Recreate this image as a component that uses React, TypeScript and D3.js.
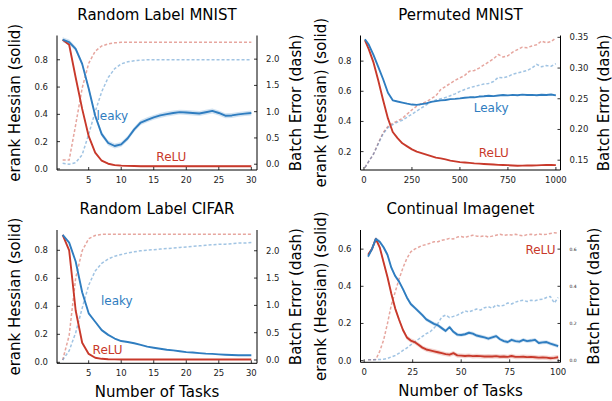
import React from 'react';
import * as d3 from 'd3';

// ---------- Data ----------
const rlTasks = [1,2,3,4,5,6,7,8,9,10,11,12,13,14,15,16,17,18,19,20,21,22,23,24,25,26,27,28,29,30];

// Random Label MNIST
const mnistLeakyErank = [0.947,0.93,0.88,0.77,0.59,0.39,0.255,0.19,0.168,0.18,0.225,0.29,0.34,0.36,0.378,0.392,0.402,0.41,0.416,0.414,0.41,0.406,0.415,0.425,0.41,0.39,0.392,0.40,0.405,0.41];
const mnistReluErank = [0.947,0.91,0.67,0.44,0.24,0.12,0.06,0.038,0.028,0.024,0.022,0.021,0.02,0.02,0.02,0.02,0.02,0.02,0.02,0.02,0.02,0.02,0.02,0.02,0.02,0.02,0.02,0.02,0.02,0.02];
const mnistLeakyError = [0.02,0.0,0.03,0.18,0.57,1.0,1.38,1.65,1.82,1.91,1.95,1.97,1.98,1.99,1.99,1.99,1.99,1.99,1.99,1.99,1.99,1.99,1.99,1.99,1.99,1.99,1.99,1.99,1.99,1.99];
const mnistReluError = [0.08,0.08,0.75,1.45,1.92,2.15,2.25,2.29,2.31,2.32,2.32,2.32,2.32,2.32,2.32,2.32,2.32,2.32,2.32,2.32,2.32,2.32,2.32,2.32,2.32,2.32,2.32,2.32,2.32,2.32];

// Random Label CIFAR
const cifarLeakyErank = [0.91,0.855,0.72,0.50,0.35,0.29,0.23,0.196,0.17,0.152,0.145,0.136,0.125,0.112,0.104,0.097,0.09,0.085,0.079,0.073,0.07,0.066,0.062,0.06,0.057,0.054,0.052,0.051,0.05,0.05];
const cifarReluErank = [0.91,0.80,0.37,0.14,0.06,0.033,0.025,0.022,0.021,0.02,0.02,0.02,0.02,0.02,0.02,0.02,0.02,0.02,0.02,0.02,0.02,0.02,0.02,0.02,0.02,0.02,0.02,0.02,0.02,0.02];
const cifarLeakyError = [0.0,0.17,0.5,0.95,1.37,1.63,1.77,1.85,1.9,1.93,1.96,1.98,2.0,2.01,2.02,2.03,2.04,2.05,2.06,2.07,2.08,2.09,2.1,2.11,2.12,2.12,2.13,2.14,2.14,2.15];
const cifarReluError = [0.0,0.45,1.5,2.0,2.22,2.28,2.3,2.3,2.3,2.3,2.3,2.3,2.3,2.3,2.3,2.3,2.3,2.3,2.3,2.3,2.3,2.3,2.3,2.3,2.3,2.3,2.3,2.3,2.3,2.3];

// Permuted MNIST
const permTasks = [5,25,50,75,100,125,150,175,200,225,250,275,300,325,350,375,400,425,450,475,500,525,550,575,600,625,650,675,700,725,750,775,800,825,850,875,900,925,950,975,1000];
const permLeakyErank = [0.945,0.91,0.84,0.76,0.68,0.59,0.54,0.532,0.525,0.518,0.512,0.51,0.515,0.52,0.53,0.535,0.54,0.542,0.548,0.55,0.553,0.557,0.56,0.56,0.565,0.567,0.57,0.568,0.572,0.575,0.573,0.576,0.574,0.578,0.575,0.576,0.574,0.577,0.575,0.579,0.573];
const permReluErank = [0.94,0.88,0.79,0.67,0.54,0.42,0.33,0.29,0.255,0.235,0.215,0.2,0.19,0.18,0.17,0.16,0.155,0.148,0.14,0.135,0.13,0.128,0.125,0.122,0.12,0.118,0.116,0.114,0.112,0.111,0.11,0.108,0.106,0.107,0.108,0.108,0.109,0.11,0.111,0.112,0.11];
const permLeakyError = [0.138,0.148,0.16,0.177,0.193,0.203,0.208,0.212,0.215,0.22,0.225,0.23,0.235,0.24,0.245,0.248,0.25,0.252,0.255,0.258,0.262,0.265,0.268,0.27,0.272,0.274,0.275,0.278,0.285,0.284,0.286,0.29,0.292,0.294,0.296,0.3,0.306,0.302,0.304,0.303,0.307];
const permReluError = [0.138,0.148,0.16,0.178,0.195,0.205,0.21,0.214,0.218,0.225,0.232,0.238,0.242,0.245,0.25,0.255,0.265,0.27,0.275,0.28,0.284,0.288,0.295,0.296,0.3,0.305,0.31,0.315,0.322,0.318,0.32,0.326,0.33,0.334,0.333,0.336,0.338,0.344,0.341,0.343,0.349];

// Continual Imagenet
const imgTasks = [2,4,6,8,10,12,14,16,18,20,22,24,26,28,30,32,34,36,38,40,42,44,46,48,50,52,54,56,58,60,62,64,66,68,70,72,74,76,78,80,82,84,86,88,90,92,94,96,98,100];
const imgLeakyErank = [0.56,0.60,0.655,0.64,0.61,0.57,0.50,0.455,0.425,0.385,0.34,0.305,0.285,0.265,0.245,0.222,0.21,0.198,0.19,0.175,0.16,0.18,0.155,0.14,0.138,0.142,0.15,0.145,0.135,0.13,0.125,0.118,0.125,0.132,0.115,0.105,0.1,0.112,0.105,0.102,0.112,0.105,0.108,0.112,0.095,0.098,0.1,0.092,0.085,0.078];
const imgReluErank = [0.57,0.60,0.655,0.61,0.53,0.45,0.36,0.28,0.22,0.165,0.125,0.108,0.1,0.085,0.07,0.06,0.055,0.05,0.045,0.04,0.035,0.032,0.04,0.028,0.027,0.025,0.027,0.024,0.025,0.024,0.022,0.023,0.022,0.024,0.021,0.022,0.02,0.025,0.02,0.02,0.021,0.019,0.02,0.018,0.016,0.017,0.016,0.013,0.015,0.018];
const imgLeakyError = [0.005,0.005,0.005,0.006,0.008,0.012,0.02,0.028,0.04,0.055,0.068,0.085,0.1,0.115,0.13,0.145,0.155,0.175,0.2,0.235,0.245,0.232,0.238,0.245,0.255,0.268,0.262,0.27,0.278,0.272,0.285,0.29,0.282,0.3,0.292,0.298,0.31,0.305,0.315,0.322,0.325,0.318,0.325,0.322,0.328,0.33,0.34,0.345,0.31,0.34];
const imgReluError = [0.005,0.005,0.006,0.05,0.11,0.2,0.3,0.37,0.44,0.5,0.55,0.585,0.6,0.61,0.62,0.625,0.632,0.64,0.64,0.648,0.652,0.658,0.655,0.665,0.668,0.663,0.67,0.675,0.67,0.668,0.672,0.665,0.67,0.675,0.68,0.674,0.678,0.676,0.68,0.675,0.672,0.678,0.68,0.676,0.682,0.678,0.68,0.684,0.688,0.686];

const rlXTicks = [5, 10, 15, 20, 25, 30];
const rlLeftTicks = [0, 0.2, 0.4, 0.6, 0.8];
const rlRightTicks = [0, 0.5, 1.0, 1.5, 2.0];
const permXTicks = [0, 250, 500, 750, 1000];
const permLeftTicks = [0.2, 0.4, 0.6, 0.8];
const permRightTicks = [0.15, 0.2, 0.25, 0.3, 0.35];
const imgXTicks = [0, 25, 50, 75, 100];
const imgLeftTicks = [0, 0.2, 0.4, 0.6];
const imgRightTicks = [0, 0.2, 0.4, 0.6];

// ---------- Styles ----------
const BLUE = '#2f7dc0';
const RED = '#c8392b';
const FONT = 'DejaVu Sans, Liberation Sans, sans-serif';

type Series = { x: number[]; y: number[]; axis: 'L' | 'R'; color: string; dashed?: boolean; band?: number };
type Label = { x: number; y: number; text: string; color: string };

type PanelProps = {
  box: { l: number; r: number; t: number; b: number };
  xDomain: [number, number];
  yLDomain: [number, number];
  yRDomain: [number, number];
  xTicks: number[];
  yLTicks: number[];
  yRTicks: number[];
  xFmt: (v: number) => string;
  yLFmt: (v: number) => string;
  yRFmt: (v: number) => string;
  rightTickSize?: number;
  series: Series[];
  labels: Label[];
  title: string;
  yLabel: string;
  yLabelX: number;
  yRLabel: string;
  yRLabelX: number;
  xLabel?: string;
};

function Panel(p: PanelProps) {
  const { box } = p;
  const x = d3.scaleLinear().domain(p.xDomain).range([box.l, box.r]);
  const yL = d3.scaleLinear().domain(p.yLDomain).range([box.b, box.t]);
  const yR = d3.scaleLinear().domain(p.yRDomain).range([box.b, box.t]);
  const cx = (box.l + box.r) / 2;
  const cy = (box.t + box.b) / 2;
  const tickLen = 3;
  const clipId = `clip-${Math.round(box.l)}-${Math.round(box.t)}`;
  return (
    <g>
      <defs>
        <clipPath id={clipId}>
          <rect x={box.l} y={box.t - 4} width={box.r - box.l} height={box.b - box.t + 4} />
        </clipPath>
      </defs>
      <g clipPath={`url(#${clipId})`}>
        {p.series.filter(s => s.band).map((s, i) => {
          const ys = s.axis === 'L' ? yL : yR;
          const area = d3.area<number>()
            .x((_, j) => x(s.x[j]))
            .y0((v) => ys(v - (s.band as number)))
            .y1((v) => ys(v + (s.band as number)));
          return <path key={'b' + i} d={area(s.y) || ''} fill={s.color} fillOpacity={0.22} stroke="none" />;
        })}
        {p.series.map((s, i) => {
          const ys = s.axis === 'L' ? yL : yR;
          const line = d3.line<number>().x((_, j) => x(s.x[j])).y((v) => ys(v));
          return (
            <path
              key={'s' + i}
              d={line(s.y) || ''}
              fill="none"
              stroke={s.color}
              strokeWidth={s.dashed ? 1.5 : 1.9}
              strokeOpacity={s.dashed ? 0.45 : 1}
              strokeDasharray={s.dashed ? '3,2' : undefined}
              strokeLinejoin="round"
            />
          );
        })}
      </g>
      {/* axes */}
      <line x1={box.l} x2={box.l} y1={box.t} y2={box.b} stroke="#000" strokeWidth={1} />
      <line x1={box.r} x2={box.r} y1={box.t} y2={box.b} stroke="#000" strokeWidth={1} />
      <line x1={box.l} x2={box.r} y1={box.b} y2={box.b} stroke="#000" strokeWidth={1} />
      {p.xTicks.map((t) => (
        <g key={'xt' + t}>
          <line x1={x(t)} x2={x(t)} y1={box.b} y2={box.b - tickLen} stroke="#000" strokeWidth={0.8} />
          <text x={x(t)} y={box.b + 13} fontSize={8.5} textAnchor="middle" fill="#222" fontFamily={FONT}>{p.xFmt(t)}</text>
        </g>
      ))}
      {p.yLTicks.map((t) => (
        <g key={'yl' + t}>
          <line x1={box.l} x2={box.l + tickLen} y1={yL(t)} y2={yL(t)} stroke="#000" strokeWidth={0.8} />
          <text x={box.l - 9} y={yL(t)} dy="0.35em" fontSize={8.5} textAnchor="end" fill="#222" fontFamily={FONT}>{p.yLFmt(t)}</text>
        </g>
      ))}
      {p.yRTicks.map((t) => (
        <g key={'yr' + t}>
          <line x1={box.r} x2={box.r - tickLen} y1={yR(t)} y2={yR(t)} stroke="#000" strokeWidth={0.8} />
          <text x={box.r + 9} y={yR(t)} dy="0.35em" fontSize={p.rightTickSize ?? 8.5} textAnchor="start" fill="#222" fontFamily={FONT}>{p.yRFmt(t)}</text>
        </g>
      ))}
      {p.labels.map((lb, i) => (
        <text key={'lb' + i} x={x(lb.x)} y={yL(lb.y)} fontSize={12} fill={lb.color} fontFamily={FONT}>{lb.text}</text>
      ))}
      <text x={cx} y={box.t - 16} fontSize={15} textAnchor="middle" fill="#000" fontFamily={FONT}>{p.title}</text>
      <text transform={`translate(${p.yLabelX},${cy}) rotate(-90)`} fontSize={15} textAnchor="middle" fill="#000" fontFamily={FONT}>{p.yLabel}</text>
      <text transform={`translate(${p.yRLabelX},${cy}) rotate(-90)`} fontSize={15} textAnchor="middle" fill="#000" fontFamily={FONT}>{p.yRLabel}</text>
      {p.xLabel && (
        <text x={cx} y={box.b + 34} fontSize={15} textAnchor="middle" fill="#000" fontFamily={FONT}>{p.xLabel}</text>
      )}
    </g>
  );
}

const f1 = (v: number) => d3.format('.1f')(v);
const f2 = (v: number) => d3.format('.2f')(v);
const f0 = (v: number) => String(v);

export default function App() {
  return (
    <svg width={612} height={401} style={{ position: 'absolute', left: 0, top: 0, background: '#fff' }} xmlns="http://www.w3.org/2000/svg">
      <rect x={0} y={0} width={612} height={401} fill="#fff" />
      <Panel
        box={{ l: 57, r: 257, t: 35.5, b: 170 }}
        xDomain={[0.13, 30.87]}
        yLDomain={[-0.008, 0.978]}
        yRDomain={[-0.11, 2.45]}
        xTicks={rlXTicks} yLTicks={rlLeftTicks} yRTicks={rlRightTicks}
        xFmt={f0} yLFmt={f1} yRFmt={f1}
        series={[
          { x: rlTasks, y: mnistReluError, axis: 'R', color: RED, dashed: true },
          { x: rlTasks, y: mnistLeakyError, axis: 'R', color: BLUE, dashed: true },
          { x: rlTasks, y: mnistReluErank, axis: 'L', color: RED, band: 0.006 },
          { x: rlTasks, y: mnistLeakyErank, axis: 'L', color: BLUE, band: 0.018 },
        ]}
        labels={[
          { x: 6.2, y: 0.36, text: 'leaky', color: BLUE },
          { x: 15.4, y: 0.058, text: 'ReLU', color: RED },
        ]}
        title="Random Label MNIST"
        yLabel="erank Hessian (solid)" yLabelX={19.5}
        yRLabel="Batch Error (dash)" yRLabelX={301}
      />
      <Panel
        box={{ l: 360.5, r: 560.5, t: 35.5, b: 170 }}
        xDomain={[-18, 1024]}
        yLDomain={[0.078, 0.97]}
        yRDomain={[0.134, 0.353]}
        xTicks={permXTicks} yLTicks={permLeftTicks} yRTicks={permRightTicks}
        xFmt={f0} yLFmt={f1} yRFmt={f2}
        series={[
          { x: permTasks, y: permReluError, axis: 'R', color: RED, dashed: true },
          { x: permTasks, y: permLeakyError, axis: 'R', color: BLUE, dashed: true },
          { x: permTasks, y: permReluErank, axis: 'L', color: RED },
          { x: permTasks, y: permLeakyErank, axis: 'L', color: BLUE },
        ]}
        labels={[
          { x: 572, y: 0.463, text: 'Leaky', color: BLUE },
          { x: 598, y: 0.164, text: 'ReLU', color: RED },
        ]}
        title="Permuted MNIST"
        yLabel="erank (Hessian) (solid)" yLabelX={325.5}
        yRLabel="Batch Error (dash)" yRLabelX={608.5}
      />
      <Panel
        box={{ l: 57, r: 257, t: 230, b: 363.3 }}
        xDomain={[0.13, 30.87]}
        yLDomain={[-0.007, 0.945]}
        yRDomain={[-0.06, 2.38]}
        xTicks={rlXTicks} yLTicks={rlLeftTicks} yRTicks={rlRightTicks}
        xFmt={f0} yLFmt={f1} yRFmt={f1}
        series={[
          { x: rlTasks, y: cifarReluError, axis: 'R', color: RED, dashed: true },
          { x: rlTasks, y: cifarLeakyError, axis: 'R', color: BLUE, dashed: true },
          { x: rlTasks, y: cifarReluErank, axis: 'L', color: RED },
          { x: rlTasks, y: cifarLeakyErank, axis: 'L', color: BLUE },
        ]}
        labels={[
          { x: 6.9, y: 0.409, text: 'leaky', color: BLUE },
          { x: 5.6, y: 0.059, text: 'ReLU', color: RED },
        ]}
        title="Random Label CIFAR"
        yLabel="erank Hessian (solid)" yLabelX={19.5}
        yRLabel="Batch Error (dash)" yRLabelX={300.5}
        xLabel="Number of Tasks"
      />
      <Panel
        box={{ l: 360.5, r: 560.5, t: 230, b: 362.3 }}
        xDomain={[-1.9, 101.2]}
        yLDomain={[-0.009, 0.703]}
        yRDomain={[-0.009, 0.703]}
        xTicks={imgXTicks} yLTicks={imgLeftTicks} yRTicks={imgRightTicks}
        xFmt={f0} yLFmt={f1} yRFmt={f1}
        rightTickSize={4.5}
        series={[
          { x: imgTasks, y: imgReluError, axis: 'R', color: RED, dashed: true },
          { x: imgTasks, y: imgLeakyError, axis: 'R', color: BLUE, dashed: true },
          { x: imgTasks, y: imgReluErank, axis: 'L', color: RED, band: 0.012 },
          { x: imgTasks, y: imgLeakyErank, axis: 'L', color: BLUE, band: 0.01 },
        ]}
        labels={[
          { x: 83.1, y: 0.574, text: 'ReLU', color: RED },
        ]}
        title="Continual Imagenet"
        yLabel="erank (Hessian) (solid)" yLabelX={325.5}
        yRLabel="Batch Error (dash)" yRLabelX={599}
        xLabel="Number of Tasks"
      />
    </svg>
  );
}
